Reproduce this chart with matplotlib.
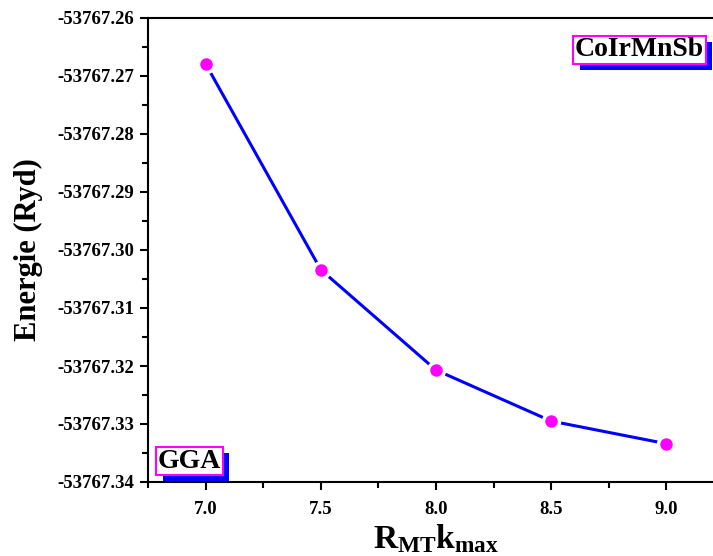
import numpy as np
import matplotlib
matplotlib.use("Agg")
import matplotlib.pyplot as plt
import matplotlib.patheffects as pe
from matplotlib.ticker import MultipleLocator, FormatStrFormatter

rkmax = [7.0, 7.5, 8.0, 8.5, 9.0]
energy = [-53767.2679, -53767.3034, -53767.3207, -53767.3295, -53767.3334]

plt.rcParams['font.family'] = 'Liberation Serif'
plt.rcParams['font.weight'] = 'bold'
plt.rcParams['mathtext.fontset'] = 'custom'
plt.rcParams['mathtext.rm'] = 'Liberation Serif:bold'
plt.rcParams['mathtext.it'] = 'Liberation Serif:bold'
plt.rcParams['mathtext.bf'] = 'Liberation Serif:bold'

W, H = 713, 556
fig = plt.figure(figsize=(W / 100, H / 100), dpi=100)
ax = fig.add_axes([148 / W, (H - 482) / H, 576 / W, (482 - 18) / H])

ax.plot(rkmax, energy, color='#0000ff', lw=2.2, marker='o', ms=11.5,
        mfc='#ff00ff', mec='white', mew=2.5, zorder=3)

ax.set_xlim(6.75, 9.25)
ax.set_ylim(-53767.34, -53767.26)
ax.xaxis.set_major_locator(MultipleLocator(0.5))
ax.xaxis.set_minor_locator(MultipleLocator(0.25))
ax.yaxis.set_major_locator(MultipleLocator(0.01))
ax.yaxis.set_minor_locator(MultipleLocator(0.005))
ax.xaxis.set_major_formatter(FormatStrFormatter('%.1f'))
ax.yaxis.set_major_formatter(FormatStrFormatter('%.2f'))

for s in ax.spines.values():
    s.set_linewidth(1.5)
ax.tick_params(which='major', direction='out', length=6, width=1.5, labelsize=13.5)
ax.tick_params(axis='x', which='major', pad=8)
ax.tick_params(axis='y', which='major', pad=4)
ax.tick_params(which='minor', direction='out', length=4, width=1.5)
for lab in ax.get_xticklabels() + ax.get_yticklabels():
    lab.set_fontweight('bold')

ax.set_ylabel('Energie (Ryd)', fontsize=22, fontweight='bold', labelpad=10)
ax.set_xlabel(r'$R_{MT}k_{max}$', fontsize=24, labelpad=3)

def boxed(x, y, s, ha):
    t = ax.text(x, y, s, transform=ax.transAxes, fontsize=20, fontweight='bold',
                ha=ha, va='center', zorder=5,
                bbox=dict(boxstyle='square,pad=0.06', fc='white', ec='#ff00ff', lw=1.5))
    t.get_bbox_patch().set_path_effects([
        pe.SimplePatchShadow(offset=(4.5, -4.5), shadow_rgbFace='#0000ff', alpha=1.0),
        pe.Normal()])
    return t

boxed((575 - 148) / 576, (482 - 50) / 464, 'CoIrMnSb', 'left')
boxed((158 - 148) / 576, (482 - 461) / 464, 'GGA', 'left')

fig.savefig('out.png', dpi=100)
